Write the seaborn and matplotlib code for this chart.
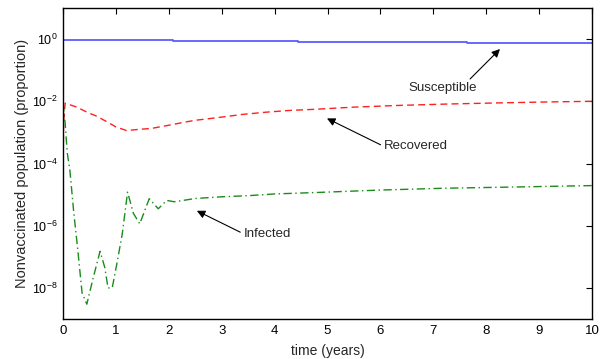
import numpy as np
import pandas as pd
import matplotlib
matplotlib.use("Agg")
import matplotlib.pyplot as plt
import seaborn as sns

# --- data ---
s_time = [0.0, 2.08, 2.08, 4.44, 4.44, 7.64, 7.64, 10.0]
s_vals = [0.93, 0.93, 0.87, 0.87, 0.80, 0.80, 0.75, 0.75]

r_time = [0.0, 0.01, 0.04, 0.26, 0.45, 0.64, 0.85, 1.0, 1.2, 1.46, 1.68, 1.87, 2.08,
          2.27, 2.5, 2.93, 3.4, 3.86, 4.29, 4.73, 5.5, 6.37, 7.3, 8.26, 9.1, 10.0]
r_vals = [4e-5, 2e-3, 8.7e-3, 6.5e-3, 4.5e-3, 3.3e-3, 2.1e-3, 1.5e-3, 1.15e-3, 1.26e-3,
          1.35e-3, 1.55e-3, 1.8e-3, 2.1e-3, 2.45e-3, 3.0e-3, 3.8e-3, 4.5e-3, 5.1e-3,
          5.5e-3, 6.5e-3, 7.4e-3, 8.2e-3, 8.9e-3, 9.5e-3, 1.0e-2]

i_time = [0.0, 0.04, 0.08, 0.13, 0.20, 0.28, 0.36, 0.45, 0.57, 0.70, 0.79, 0.85, 0.93,
          1.02, 1.12, 1.22, 1.33, 1.45, 1.63, 1.80, 1.96, 2.10, 2.27, 2.5, 3.0, 3.53,
          4.0, 4.8, 6.0, 7.18, 8.5, 10.0]
i_vals = [8.7e-3, 2.0e-3, 2.2e-4, 5.9e-5, 3e-6, 1.6e-7, 6.9e-9, 3.0e-9, 2.1e-8, 1.5e-7,
          4.5e-8, 1.0e-8, 1.0e-8, 6.3e-8, 5.5e-7, 1.2e-5, 2.5e-6, 1.15e-6, 7.4e-6, 3.5e-6,
          6.5e-6, 5.9e-6, 6.5e-6, 7.5e-6, 8.5e-6, 9.3e-6, 1.05e-5, 1.17e-5, 1.4e-5,
          1.6e-5, 1.75e-5, 1.95e-5]

x_ticks = list(range(0, 11))
y_ticks = [1e-8, 1e-6, 1e-4, 1e-2, 1e0]
y_ticklabels = [r"$10^{-8}$", r"$10^{-6}$", r"$10^{-4}$", r"$10^{-2}$", r"$10^{0}$"]

sns.set_style("white")
plt.rcParams["font.family"] = ["Liberation Sans", "DejaVu Sans"]
plt.rcParams["mathtext.fontset"] = "custom"
plt.rcParams["mathtext.rm"] = "Liberation Sans"
plt.rcParams["mathtext.it"] = "Liberation Sans:italic"
plt.rcParams["mathtext.bf"] = "Liberation Sans:bold"

fig = plt.figure(figsize=(6.02, 3.59), dpi=100)
ax = fig.add_axes([0.1047, 0.1114, 0.8787, 0.8663])

df_s = pd.DataFrame({"t": s_time, "v": s_vals})
df_r = pd.DataFrame({"t": r_time, "v": r_vals})
df_i = pd.DataFrame({"t": i_time, "v": i_vals})

sns.lineplot(data=df_s, x="t", y="v", ax=ax, color="#5c5cff", lw=1.3, sort=False,
             estimator=None)
sns.lineplot(data=df_r, x="t", y="v", ax=ax, color="#ff2020", lw=1.0, sort=False,
             estimator=None, linestyle=(0, (5, 3)))
sns.lineplot(data=df_i, x="t", y="v", ax=ax, color="#1a8c1a", lw=1.0, sort=False,
             estimator=None, linestyle=(0, (6, 2.5, 1, 2.5)))

ax.set_yscale("log")
ax.set_xlim(0, 10)
ax.set_ylim(1e-9, 1e1)
ax.set_xticks(x_ticks)
ax.set_xticklabels([str(t) for t in x_ticks])
ax.set_yticks(y_ticks)
ax.set_yticklabels(y_ticklabels)
ax.minorticks_off()
ax.yaxis.set_minor_locator(matplotlib.ticker.NullLocator())
ax.tick_params(direction="in", length=4, width=0.8, top=True, right=True,
               labelsize=9.5, colors="black", pad=4)
ax.tick_params(axis="y", labelsize=9)
for sp in ax.spines.values():
    sp.set_color("black")
    sp.set_linewidth(1.0)
    sp.set_visible(True)

ax.set_xlabel("time (years)", fontsize=10, labelpad=5)
ax.set_ylabel("Nonvaccinated population (proportion)", fontsize=10.5, labelpad=2)

arrow = dict(arrowstyle="-|>", color="black", lw=0.8, mutation_scale=12,
             shrinkA=0, shrinkB=0)
ax.annotate("Susceptible", xy=(8.26, 10**-0.32), xytext=(7.18, 10**-1.58),
            ha="center", va="center", fontsize=9.5,
            arrowprops=dict(arrow, relpos=(0.85, 1.0)))
ax.annotate("Recovered", xy=(4.99, 10**-2.55), xytext=(6.67, 10**-3.45),
            ha="center", va="center", fontsize=9.5,
            arrowprops=dict(arrow, relpos=(0.0, 0.5)))
ax.annotate("Infected", xy=(2.53, 10**-5.52), xytext=(3.86, 10**-6.26),
            ha="center", va="center", fontsize=9.5,
            arrowprops=dict(arrow, relpos=(0.0, 0.5)))

fig.savefig("out.png", dpi=100)
